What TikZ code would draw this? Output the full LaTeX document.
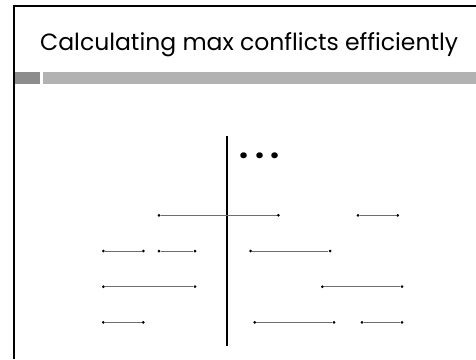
\documentclass[tikz,border=0pt]{standalone}
\usepackage{fontspec}
\setmainfont{Poppins}
\usepackage{tikz}
\usetikzlibrary{positioning}
\definecolor{bardark}{RGB}{140,140,140}
\definecolor{barlight}{RGB}{178,178,178}
\definecolor{seggray}{RGB}{110,110,110}
\tikzset{
    endpt/.style={
        circle,
        fill=black,
        inner sep=0pt,
        minimum size=3pt
    },
    interval/.style={
        draw=seggray,
        line width=0.9pt
    }
}

\begin{document}
\begin{tikzpicture}[x=1pt,y=-1pt]
\useasboundingbox (0,0) rectangle (476,359);

% slide frame and header bars
\fill[white] (0,0) rectangle (476,359);
\draw[line width=2pt] (13.7,359) -- (13.7,6) -- (476,6);
\fill[bardark] (15,71.7) rectangle (40,84);
\fill[barlight] (43,71.7) rectangle (476,84);
\node[anchor=base west, inner sep=0pt, font=\fontsize{23.5}{26}\selectfont] (title) at (40,50) {Calculating max conflicts efficiently};

% sweep line
\coordinate (sweeptop) at (226.7,136);
\coordinate (sweepbot) at (226.7,346);
\draw[line width=2pt] (sweeptop) -- (sweepbot);
\node[anchor=base west, inner sep=0pt, font=\fontsize{32}{34}\selectfont\bfseries] (dots) at (239.5,158) {.\hspace{6.5pt}.\hspace{6.5pt}.};

% row 1
\node[endpt] (r1a-l) at (159,215.3) {};
\node[endpt] (r1a-r) at (278.3,215.3) {};
\node[endpt] (r1b-l) at (358,215.3) {};
\node[endpt] (r1b-r) at (397.7,215.3) {};

% row 2
\node[endpt] (r2a-l) at (103.3,251) {};
\node[endpt] (r2a-r) at (143.3,251) {};
\node[endpt] (r2b-l) at (159,251) {};
\node[endpt] (r2b-r) at (195,251) {};
\node[endpt] (r2c-l) at (250.7,251) {};
\node[endpt] (r2c-r) at (330,251) {};

% row 3
\node[endpt] (r3a-l) at (103.3,286.7) {};
\node[endpt] (r3a-r) at (195,286.7) {};
\node[endpt] (r3b-l) at (322.3,286.7) {};
\node[endpt] (r3b-r) at (402,286.7) {};

% row 4
\node[endpt] (r4a-l) at (103.3,322.3) {};
\node[endpt] (r4a-r) at (143.3,322.3) {};
\node[endpt] (r4b-l) at (254.7,322.3) {};
\node[endpt] (r4b-r) at (334,322.3) {};
\node[endpt] (r4c-l) at (362,322.3) {};
\node[endpt] (r4c-r) at (402,322.3) {};

\draw[interval] (r1a-l) -- (r1a-r);
\draw[interval] (r1b-l) -- (r1b-r);
\draw[interval] (r2a-l) -- (r2a-r);
\draw[interval] (r2b-l) -- (r2b-r);
\draw[interval] (r2c-l) -- (r2c-r);
\draw[interval] (r3a-l) -- (r3a-r);
\draw[interval] (r3b-l) -- (r3b-r);
\draw[interval] (r4a-l) -- (r4a-r);
\draw[interval] (r4b-l) -- (r4b-r);
\draw[interval] (r4c-l) -- (r4c-r);
\end{tikzpicture}
\end{document}
